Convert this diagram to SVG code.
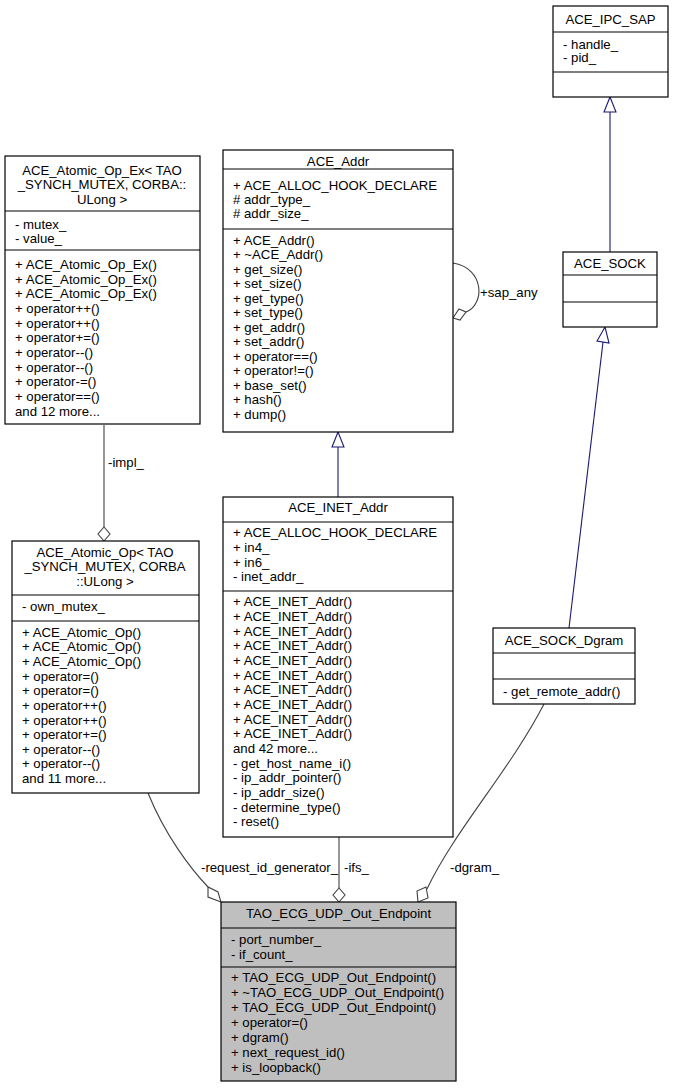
<svg xmlns="http://www.w3.org/2000/svg" width="673" height="1088" viewBox="0 0 673 1088">
<style>
.b{fill:#fff;stroke:#000;stroke-width:1.2}
.g{fill:#bfbfbf;stroke:#000;stroke-width:1.2}
.s{stroke:#000;stroke-width:1.2}
text{font-family:"Liberation Sans",Arial,sans-serif;font-size:13.2px;fill:#000}
.c{text-anchor:middle}
.e{fill:none;stroke:#404040;stroke-width:1.1}
.i{fill:none;stroke:#191970;stroke-width:1.1}
.d{fill:#fff;stroke:#404040;stroke-width:1.1}
.t{fill:#fff;stroke:#191970;stroke-width:1.1}
</style>
<rect width="673" height="1088" fill="#fff"/>
<g id="connectors">
<path class="i" d="M610,252V112"/><polygon class="t" points="610,97 604,112 616,112"/>
<path class="i" d="M338,497V447"/><polygon class="t" points="338,432 332,447 344,447"/>
<path class="i" d="M569,628L603,342"/><polygon class="t" points="605,327 597,341 609,343"/>
<path class="e" d="M453,263C485,268 485,305 466,312"/><polygon class="d" points="453,318 459,309 466,312 460,320"/>
<text x="480" y="297">+sap_any</text>
<path class="e" d="M104,425V527"/><polygon class="d" points="104,541 98,534 104,527 110,534"/>
<text x="108" y="467">-impl_</text>
<path class="e" d="M148,793C165,835 190,868 208,887"/><polygon class="d" points="221,902 208,897 208,887 218,892"/>
<text x="201" y="872">-request_id_generator_</text>
<path class="e" d="M339,837V888"/><polygon class="d" points="339,902 333,895 339,888 345,895"/>
<text x="344" y="872">-ifs_</text>
<path class="e" d="M544,704C510,770 455,830 427,889"/><polygon class="d" points="418,902 417,891 426,887 428,898"/>
<text x="450" y="872">-dgram_</text>
</g>
<g id="ACE_IPC_SAP">
<rect class="b" x="553" y="6" width="115" height="91"/>
<path class="s" d="M553,32H668M553,72H668"/>
<text class="c" x="610.5" y="24">ACE_IPC_SAP</text>
<text x="563" y="49">- handle_</text><text x="563" y="62">- pid_</text>
</g>
<g id="ACE_SOCK">
<rect class="b" x="563" y="252" width="94" height="75"/>
<path class="s" d="M563,275H657M563,302H657"/>
<text class="c" x="610" y="268">ACE_SOCK</text>
</g>
<g id="ACE_Addr">
<rect class="b" x="223" y="150" width="230" height="282"/>
<path class="s" d="M223,169H453M223,229H453"/>
<text class="c" x="338" y="166">ACE_Addr</text>
<text x="233" y="190">+ ACE_ALLOC_HOOK_DECLARE</text>
<text x="233" y="204"># addr_type_</text>
<text x="233" y="218"># addr_size_</text>
<text x="233" y="245">+ ACE_Addr()</text>
<text x="233" y="259">+ ~ACE_Addr()</text>
<text x="233" y="274">+ get_size()</text>
<text x="233" y="288">+ set_size()</text>
<text x="233" y="303">+ get_type()</text>
<text x="233" y="317">+ set_type()</text>
<text x="233" y="332">+ get_addr()</text>
<text x="233" y="346">+ set_addr()</text>
<text x="233" y="361">+ operator==()</text>
<text x="233" y="375">+ operator!=()</text>
<text x="233" y="390">+ base_set()</text>
<text x="233" y="404">+ hash()</text>
<text x="233" y="419">+ dump()</text>
</g>
<g id="ACE_Atomic_Op_Ex">
<rect class="b" x="5" y="156" width="195" height="268"/>
<path class="s" d="M5,211H200M5,250H200"/>
<text class="c" x="102" y="175">ACE_Atomic_Op_Ex&lt; TAO</text>
<text class="c" x="102" y="189">_SYNCH_MUTEX, CORBA::</text>
<text class="c" x="102" y="204">ULong &gt;</text>
<text x="15" y="229">- mutex_</text>
<text x="15" y="243">- value_</text>
<text x="15" y="269">+ ACE_Atomic_Op_Ex()</text>
<text x="15" y="284">+ ACE_Atomic_Op_Ex()</text>
<text x="15" y="298">+ ACE_Atomic_Op_Ex()</text>
<text x="15" y="313">+ operator++()</text>
<text x="15" y="328">+ operator++()</text>
<text x="15" y="342">+ operator+=()</text>
<text x="15" y="357">+ operator--()</text>
<text x="15" y="372">+ operator--()</text>
<text x="15" y="386">+ operator-=()</text>
<text x="15" y="401">+ operator==()</text>
<text x="15" y="416">and 12 more...</text>
</g>
<g id="ACE_Atomic_Op">
<rect class="b" x="12" y="541" width="187" height="252"/>
<path class="s" d="M12,595H199M12,621H199"/>
<text class="c" x="105" y="557">ACE_Atomic_Op&lt; TAO</text>
<text class="c" x="105" y="571">_SYNCH_MUTEX, CORBA</text>
<text class="c" x="105" y="586">::ULong &gt;</text>
<text x="22" y="611">- own_mutex_</text>
<text x="22" y="637">+ ACE_Atomic_Op()</text>
<text x="22" y="651">+ ACE_Atomic_Op()</text>
<text x="22" y="666">+ ACE_Atomic_Op()</text>
<text x="22" y="681">+ operator=()</text>
<text x="22" y="695">+ operator=()</text>
<text x="22" y="710">+ operator++()</text>
<text x="22" y="725">+ operator++()</text>
<text x="22" y="739">+ operator+=()</text>
<text x="22" y="754">+ operator--()</text>
<text x="22" y="768">+ operator--()</text>
<text x="22" y="783">and 11 more...</text>
</g>
<g id="ACE_INET_Addr">
<rect class="b" x="223" y="497" width="230" height="340"/>
<path class="s" d="M223,522H453M223,591H453"/>
<text class="c" x="338" y="512">ACE_INET_Addr</text>
<text x="233" y="537">+ ACE_ALLOC_HOOK_DECLARE</text>
<text x="233" y="552">+ in4_</text>
<text x="233" y="567">+ in6_</text>
<text x="233" y="581">- inet_addr_</text>
<text x="233" y="606">+ ACE_INET_Addr()</text>
<text x="233" y="621">+ ACE_INET_Addr()</text>
<text x="233" y="636">+ ACE_INET_Addr()</text>
<text x="233" y="650">+ ACE_INET_Addr()</text>
<text x="233" y="665">+ ACE_INET_Addr()</text>
<text x="233" y="680">+ ACE_INET_Addr()</text>
<text x="233" y="694">+ ACE_INET_Addr()</text>
<text x="233" y="709">+ ACE_INET_Addr()</text>
<text x="233" y="724">+ ACE_INET_Addr()</text>
<text x="233" y="738">+ ACE_INET_Addr()</text>
<text x="233" y="753">and 42 more...</text>
<text x="233" y="768">- get_host_name_i()</text>
<text x="233" y="782">- ip_addr_pointer()</text>
<text x="233" y="797">- ip_addr_size()</text>
<text x="233" y="812">- determine_type()</text>
<text x="233" y="826">- reset()</text>
</g>
<g id="ACE_SOCK_Dgram">
<rect class="b" x="493" y="628" width="142" height="76"/>
<path class="s" d="M493,653H635M493,679H635"/>
<text class="c" x="564" y="645">ACE_SOCK_Dgram</text>
<text x="503" y="696">- get_remote_addr()</text>
</g>
<g id="TAO_ECG_UDP_Out_Endpoint">
<rect class="g" x="221" y="902" width="235" height="179"/>
<path class="s" d="M221,928H456M221,967H456"/>
<text class="c" x="338.5" y="918">TAO_ECG_UDP_Out_Endpoint</text>
<text x="231" y="944">- port_number_</text>
<text x="231" y="959">- if_count_</text>
<text x="231" y="982">+ TAO_ECG_UDP_Out_Endpoint()</text>
<text x="231" y="997">+ ~TAO_ECG_UDP_Out_Endpoint()</text>
<text x="231" y="1012">+ TAO_ECG_UDP_Out_Endpoint()</text>
<text x="231" y="1027">+ operator=()</text>
<text x="231" y="1042">+ dgram()</text>
<text x="231" y="1057">+ next_request_id()</text>
<text x="231" y="1072">+ is_loopback()</text>
</g>
</svg>
